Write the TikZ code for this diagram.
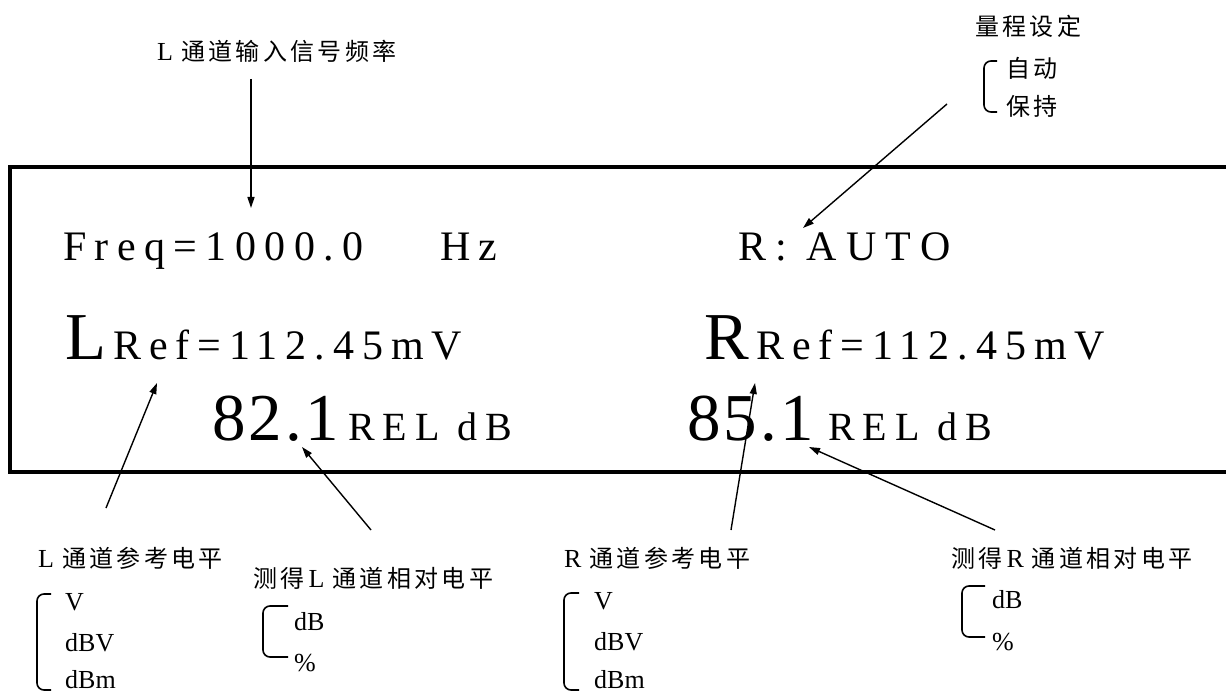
\documentclass[tikz,border=0pt]{standalone}
\usepackage{fontspec}
\setmainfont{Liberation Serif}
\newfontfamily\cjk[LetterSpace=14]{Noto Sans CJK SC}
\usetikzlibrary{arrows.meta}
\tikzset{
  lbl/.style={inner sep=0pt, anchor=base west, font=\fontsize{26}{26}\selectfont},
  cj/.style={inner sep=0pt, anchor=base west, font=\fontsize{24}{24}\selectfont\cjk},
  unit/.style={inner sep=0pt, anchor=base west, font=\fontsize{26}{26}\selectfont},
  lcd/.style={inner sep=0pt, anchor=base west, font=\fontsize{42}{42}\selectfont},
  rel/.style={inner sep=0pt, anchor=base west, font=\fontsize{40}{40}\selectfont},
  big/.style={inner sep=0pt, anchor=base west, font=\fontsize{67}{67}\selectfont},
  ptr/.style={line width=1.4pt, -{Triangle[length=11pt,width=7pt]}},
  brk/.style={line width=1.6pt, rounded corners=7pt},
  frame/.style={line width=4.5pt},
}
\newcommand{\cz}{\fontsize{24}{24}\selectfont\cjk}
\newcommand{\gp}{\hspace{8pt}}
\begin{document}
\begin{tikzpicture}[x=1pt,y=-1pt]
\useasboundingbox (0,0) rectangle (1226,692);
% display frame (open at right)
\draw[frame] (1240,167) -- (10,167) -- (10,472) -- (1240,472);

% display texts
\node[lcd] (freq) at (63,261) {\addfontfeature{LetterSpace=20}Freq=1000.0};
\node[lcd] (hz) at (440,261) {\addfontfeature{LetterSpace=20}Hz};
\node[lcd] (auto) at (738,261) {\addfontfeature{LetterSpace=22}R:~AUTO};
\node[big] (bigL) at (65,360) {L};
\node[lcd] (lref) at (113,360) {\addfontfeature{LetterSpace=19}Ref=112.45mV};
\node[big] (bigR) at (704,360) {R};
\node[lcd] (rref) at (756,360) {\addfontfeature{LetterSpace=19}Ref=112.45mV};
\node[big] (lval) at (212,440) {\addfontfeature{LetterSpace=5}82.1};
\node[rel] (lrel) at (348,440) {\addfontfeature{LetterSpace=20}REL dB};
\node[big] (rval) at (687,440) {\addfontfeature{LetterSpace=5}85.1};
\node[rel] (rrel) at (828,440) {\addfontfeature{LetterSpace=20}REL dB};

% top labels
\node[lbl] (tlab) at (157,61) {L\gp{\cz 通道输入信号频率}};
\node[cj] (range) at (975,36) {量程设定};
\node[cj] (auto2) at (1006,78) {自动};
\node[cj] (hold) at (1006,116) {保持};
\draw[brk] (997,61) -- (984,61) -- (984,112) -- (997,112);

% bottom labels: L reference
\node[lbl] (lreflab) at (38,567) {L\gp{\cz 通道参考电平}};
\node[unit] (lv) at (65,610) {V};
\node[unit] (ldbv) at (65,651) {dBV};
\node[unit] (ldbm) at (65,688) {dBm};
\draw[brk] (51,594) -- (37,594) -- (37,690) -- (51,690);

% L relative
\node[lbl] (lrellab) at (253,587) {{\cz 测得}\hspace{4pt}L\gp{\cz 通道相对电平}};
\node[unit] (ldb) at (294,630) {dB};
\node[unit] (lpc) at (294,671) {\%};
\draw[brk] (288,606) -- (263,606) -- (263,657) -- (288,657);

% R reference
\node[lbl] (rreflab) at (564,567) {R\gp{\cz 通道参考电平}};
\node[unit] (rv) at (594,609) {V};
\node[unit] (rdbv) at (594,650) {dBV};
\node[unit] (rdbm) at (594,688) {dBm};
\draw[brk] (579,593) -- (564,593) -- (564,690) -- (579,690);

% R relative
\node[lbl] (rrellab) at (951,567) {{\cz 测得}\hspace{4pt}R\gp{\cz 通道相对电平}};
\node[unit] (rdb) at (992,608) {dB};
\node[unit] (rpc) at (992,650) {\%};
\draw[brk] (985,586) -- (962,586) -- (962,637) -- (985,637);

% arrow endpoints
\coordinate (a1s) at (251,79);   \coordinate (a1e) at (251,208);
\coordinate (a2s) at (947,104);  \coordinate (a2e) at (803,228);
\coordinate (a3s) at (106,508);  \coordinate (a3e) at (157,383);
\coordinate (a4s) at (371,530);  \coordinate (a4e) at (302,447);
\coordinate (a5s) at (731,530);  \coordinate (a5e) at (755,383);
\coordinate (a6s) at (995,530);  \coordinate (a6e) at (809,447);
\draw[ptr] (a1s) -- (a1e);
\draw[ptr] (a2s) -- (a2e);
\draw[ptr] (a3s) -- (a3e);
\draw[ptr] (a4s) -- (a4e);
\draw[ptr] (a5s) -- (a5e);
\draw[ptr] (a6s) -- (a6e);
\end{tikzpicture}
\end{document}
